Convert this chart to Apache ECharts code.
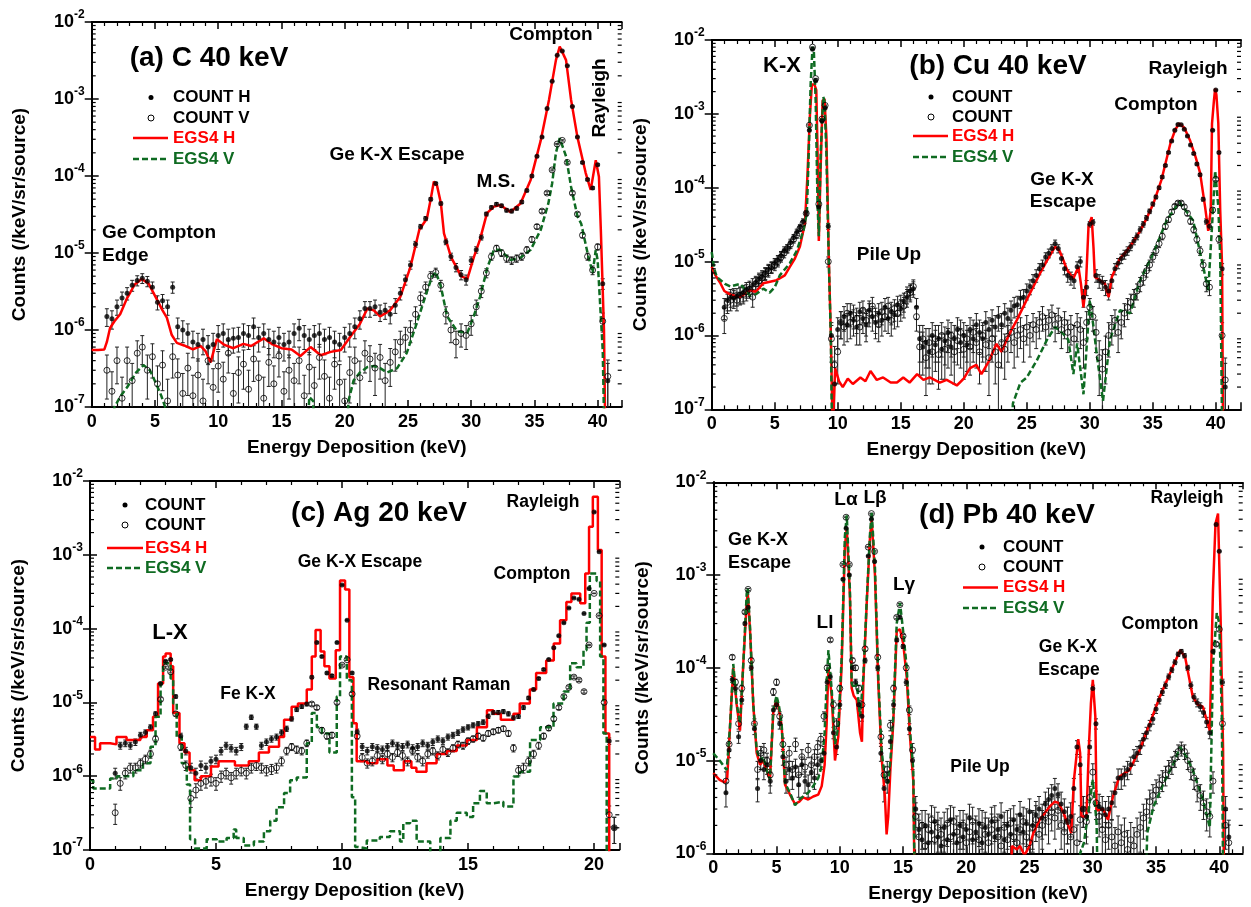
<!DOCTYPE html>
<html>
<head>
<meta charset="utf-8">
<title>Scattered photon spectra, H / V polarization</title>
<script src="https://cdn.jsdelivr.net/npm/echarts@6/dist/echarts.min.js"></script>
<style>
  body { margin: 0; background: #fff; }
  #main { width: 1251px; height: 907px; }
</style>
</head>
<body>
<div id="main"></div>
<script>
// ---------------- data ----------------
// measured points: energy grid = step * (1..n); rows grouped for readability
var stepA = 0.4, stepB = 0.25, stepC = 0.2, stepD = 0.25;

var countHA = [].concat(
  [null, null, 1.5e-6, 1.4e-6, 2e-6], [2.6e-6, 3e-6, 3.8e-6, 4.4e-6, 4.7e-6],
  [4.3e-6, 3.6e-6, 2.3e-6, 2.4e-6, 2e-6], [3.6e-6, 1.1e-6, 1e-6, 9e-7, 7e-7],
  [6.5e-7, 7.5e-7, 6e-7, 6.5e-7, 8.5e-7], [9e-7, 7.5e-7, 7.8e-7, 8e-7, 9e-7],
  [8.5e-7, 1.1e-6, 8e-7, 9e-7, 7.5e-7], [7e-7, 8e-7, 6.5e-7, 7e-7, 9e-7],
  [1.05e-6, 8.5e-7, 7.5e-7, 8.5e-7, 9e-7], [7.5e-7, 8e-7, 7e-7, 6.5e-7, 8e-7],
  [9e-7, 1.1e-6, 1.4e-6, 1.9e-6, 1.9e-6], [2e-6, 1.7e-6, 1.8e-6, 1.6e-6, 2.1e-6],
  [3e-6, 4.5e-6, 7e-6, 1.3e-5, 2.2e-5], [2.8e-5, 5e-5, 8e-5, 4.4e-5, 1.4e-5],
  [9e-6, 6.5e-6, 5.2e-6, 4.5e-6, 8e-6], [1.1e-5, 1.6e-5, 3.2e-5, 3.9e-5, 4.3e-5],
  [4.1e-5, 3.6e-5, 3.5e-5, 3.8e-5, 4.6e-5], [6.5e-5, 1e-4, 1.8e-4, 3.2e-4, 7.5e-4],
  [1.7e-3, 3.7e-3, 4.2e-3, 2.7e-3, 8e-4], [3.2e-4, 1.5e-4, 9e-5, 7e-5, 1.4e-4],
  [4e-6, 2.2e-7]);
var countVA = [].concat(
  [null, null, 3e-7, 1.6e-7, 4e-7], [1.3e-7, 4e-7, 2.2e-7, 5e-7, 6e-7],
  [3e-7, 4.5e-7, 2e-7, 3.5e-7, 1.2e-7], [4.5e-7, 2.6e-7, 1.5e-7, 3.2e-7, 1.4e-7],
  [2.6e-7, 1.2e-7, 4e-7, 1.8e-7, 3.4e-7], [2.3e-7, 5e-7, 1.5e-7, 2.8e-7, 3.6e-7],
  [1.7e-7, 4.2e-7, 2.4e-7, 1.3e-7, 3.8e-7], [2e-7, 4.6e-7, 1.6e-7, 3e-7, 2.2e-7],
  [4e-7, 1.4e-7, 3.3e-7, 1.9e-7, 4.4e-7], [2.5e-7, 1.3e-7, 3.6e-7, 2.1e-7, 1.2e-7],
  [2.8e-7, 4e-7, 2.4e-7, 5e-7, 4.2e-7], [3.2e-7, 4.4e-7, 2.2e-7, 3.8e-7, 5.2e-7],
  [7e-7, 8e-7, 1e-6, 1.6e-6, 2.6e-6], [3.6e-6, 5e-6, 5.6e-6, 3.8e-6, 1.6e-6],
  [1e-6, 7e-7, 9e-7, 8.5e-7, 1.2e-6], [2e-6, 3.2e-6, 5.5e-6, 9e-6, 1.15e-5],
  [1e-5, 8.5e-6, 8e-6, 8.5e-6, 9e-6], [1.1e-5, 1.5e-5, 2.2e-5, 3.5e-5, 6e-5],
  [1.2e-4, 2.6e-4, 2.9e-4, 1.5e-4, 6e-5], [3.2e-5, 1.7e-5, 9e-6, 6e-6, 1.2e-5],
  [1.3e-6, 2.5e-7]);

var countHB = [].concat(
  [null, null, null, 2.4e-6], [3e-6, 3.3e-6, 3.2e-6, 3.4e-6], [3.6e-6, 3.8e-6, 4.2e-6, 4.4e-6],
  [4.8e-6, 5.2e-6, 5.8e-6, 6.3e-6], [7e-6, 7.8e-6, 8.3e-6, 9.5e-6], [1.05e-5, 1.2e-5, 1.4e-5, 1.5e-5],
  [1.8e-5, 2.1e-5, 2.5e-5, 2.9e-5], [3.5e-5, 4.5e-5, 6e-4, 7.5e-3], [2.8e-3, 5.5e-5, 8e-4, 1.2e-3],
  [3e-5, 1e-6, 2.2e-7, 1.2e-6], [1.5e-6, 1.8e-6, 1.4e-6, 2e-6], [1.6e-6, 1.3e-6, 2.1e-6, 1.7e-6],
  [1.4e-6, 2.2e-6, 1.8e-6, 1.5e-6], [2e-6, 1.6e-6, 2.4e-6, 1.7e-6], [2.1e-6, 1.9e-6, 2.6e-6, 2.3e-6],
  [2.9e-6, 3.3e-6, 4e-6, 4.3e-6], [2.4e-6, 9e-7, 7e-7, 8e-7], [6e-7, 1e-6, 7.5e-7, 9e-7],
  [6.5e-7, 8.5e-7, 1.1e-6, 7e-7], [9e-7, 1.2e-6, 8e-7, 1e-6], [7.5e-7, 1.2e-6, 9e-7, 1.4e-6],
  [1.1e-6, 9e-7, 1.5e-6, 1.2e-6], [1.6e-6, 1.3e-6, 1.8e-6, 1.4e-6], [2e-6, 1.7e-6, 2.2e-6, 2.5e-6],
  [2.6e-6, 3.2e-6, 3.3e-6, 4e-6], [4.6e-6, 5.5e-6, 6.5e-6, 8e-6], [9e-6, 1.15e-5, 1.3e-5, 1.5e-5],
  [1.75e-5, 1.5e-5, 1.1e-5, 8e-6], [6.5e-6, 6e-6, 5.5e-6, 8.5e-6], [1e-5, 3.3e-6, 4.5e-6, 3.2e-5],
  [3.4e-5, 6.5e-6, 5.5e-6, 5.2e-6], [4.5e-6, 4e-6, 5.5e-6, 8e-6], [9.5e-6, 1.1e-5, 1.25e-5, 1.4e-5],
  [1.6e-5, 1.9e-5, 2.2e-5, 2.7e-5], [3.2e-5, 3.9e-5, 4.8e-5, 6e-5], [7.5e-5, 1e-4, 1.4e-4, 2e-4],
  [3e-4, 4.3e-4, 6e-4, 7.2e-4], [7.1e-4, 6.2e-4, 5e-4, 3.8e-4], [2.9e-4, 2.1e-4, 1.5e-4, 7e-5],
  [3.5e-5, 3e-5, 6e-4, 2.1e-3], [3e-4, 8e-6, 2e-7]);
var countVB = [].concat(
  [null, null, null, 1.7e-6], [2.8e-6, 3e-6, 3.4e-6, 3e-6], [3.5e-6, 3.6e-6, 3.9e-6, 4.2e-6],
  [3.3e-6, 5e-6, 5.5e-6, 6e-6], [6.8e-6, 7.5e-6, 8.5e-6, 9e-6], [1e-5, 1.15e-5, 1.3e-5, 1.5e-5],
  [1.7e-5, 2e-5, 2.3e-5, 2.8e-5], [3.3e-5, 4.5e-5, 7e-4, 8e-3], [3e-3, 6e-5, 8.5e-4, 1.3e-3],
  [1e-5, 9e-7, 4e-7, 6e-7], [1.5e-6, 1.3e-6, 2e-6, 1.5e-6], [1.9e-6, 1.7e-6, 1.3e-6, 2.2e-6],
  [1.6e-6, 2e-6, 2.5e-6, 1.7e-6], [1.4e-6, 2.1e-6, 1.8e-6, 2.5e-6], [1.6e-6, 2.3e-6, 2e-6, 2.7e-6],
  [2.5e-6, 3.6e-6, 3.8e-6, 4.6e-6], [1.8e-6, 7e-7, 9e-7, 5e-7], [8e-7, 6e-7, 9e-7, 5.5e-7],
  [1e-6, 6.5e-7, 8e-7, 1e-6], [6e-7, 8.5e-7, 1.1e-6, 6.5e-7], [9e-7, 7e-7, 1.1e-6, 8e-7],
  [6e-7, 1e-6, 7.5e-7, 5e-7], [9e-7, 6e-7, 4e-7, 8e-7], [6.5e-7, 9e-7, 1.1e-6, 8e-7],
  [1e-6, 1.2e-6, 9e-7, 1.3e-6], [1e-6, 1.4e-6, 1.2e-6, 1.5e-6], [1.8e-6, 1.3e-6, 1.6e-6, 1.9e-6],
  [1.4e-6, 1.7e-6, 1.2e-6, 1.5e-6], [1.1e-6, 1.3e-6, 9e-7, 1.4e-6], [1.2e-6, 8e-7, 1.5e-6, 2.4e-6],
  [1.8e-6, 1.1e-6, 5e-7, 3.5e-7], [6e-7, 1e-6, 1.3e-6, 1.6e-6], [1.1e-6, 1.5e-6, 2e-6, 2.4e-6],
  [2.8e-6, 3.3e-6, 4e-6, 5e-6], [6e-6, 7.5e-6, 9e-6, 1.15e-5], [1.4e-5, 1.75e-5, 2.2e-5, 3e-5],
  [3.7e-5, 4.7e-5, 5.6e-5, 6.2e-5], [6.2e-5, 5.5e-5, 4.5e-5, 3.5e-5], [2.7e-5, 2e-5, 1.4e-5, 9e-6],
  [5e-6, 4.5e-6, 5e-5, 1.3e-4], [2e-5, 1e-6, 2.5e-7]);

var countHC = [].concat(
  [null, null, null, null, 1.1e-6], [2.6e-6, 2.8e-6, 2.6e-6, 2.9e-6, 3.6e-6],
  [3.9e-6, 4.6e-6, 7e-6, 1.8e-5, 3.6e-5], [3.8e-5, 1.2e-5, 3.5e-6, 2.2e-6, 1.3e-6],
  [1.1e-6, 1.4e-6, 1.3e-6, 1.6e-6, 1.7e-6], [2.2e-6, 2.6e-6, 2.4e-6, 2.2e-6, 2.5e-6],
  [4.7e-6, 6.3e-6, 4.7e-6, 2.6e-6, 2.9e-6], [3.2e-6, 3.4e-6, 3.9e-6, 4.4e-6, 6e-6],
  [8e-6, 8.8e-6, 9.5e-6, 2.2e-5, 6.5e-5], [4.2e-5, 2.5e-5, 2.3e-5, 6.5e-5, 3.9e-4],
  [1.3e-4, 2.5e-5, 4e-6, 2.5e-6, 2.2e-6], [2.5e-6, 2.4e-6, 2.3e-6, 2.5e-6, 2.8e-6],
  [2.6e-6, 2.5e-6, 2.7e-6, 2.4e-6, 2.5e-6], [2.8e-6, 2.6e-6, 2.9e-6, 3.2e-6, 3e-6],
  [3.4e-6, 3.6e-6, 3.9e-6, 4.3e-6, 4.6e-6], [4.9e-6, 5.1e-6, 5.4e-6, 6.5e-6, 7.3e-6],
  [7.3e-6, 7.5e-6, 7e-6, 6.2e-6, 6.5e-6], [8.5e-6, 1.15e-5, 1.5e-5, 2.1e-5, 2.8e-5],
  [3.8e-5, 5.5e-5, 8e-5, 1.2e-4, 1.9e-4], [2.6e-4, 2.5e-4, 1.6e-4, 3.5e-4, 3.8e-3],
  [1.1e-3, 6e-5, 3e-6, 2e-7]);
var countVC = [].concat(
  [null, null, null, null, 3.2e-7], [8e-7, 1.1e-6, 1.3e-6, 1.3e-6, 1.5e-6],
  [1.7e-6, 2e-6, 3.2e-6, 1.1e-5, 3e-5], [2.6e-5, 7e-6, 2.5e-6, 1.4e-6, 5e-7],
  [6.5e-7, 8e-7, 8.5e-7, 9e-7, 8e-7], [1e-6, 1.1e-6, 9.5e-7, 1.1e-6, 1.2e-6],
  [1.1e-6, 1.3e-6, 1.4e-6, 1.3e-6, 1.2e-6], [1.25e-6, 1.3e-6, 1.6e-6, 2.2e-6, 2.5e-6],
  [2.3e-6, 2.2e-6, 2.8e-6, 9.5e-6, 8.5e-6], [4.2e-6, 3.5e-6, 3.6e-6, 1e-5, 3.2e-5],
  [3.8e-5, 1.3e-5, 3.5e-6, 1.8e-6, 1.5e-6], [1.6e-6, 1.9e-6, 1.7e-6, 2e-6, 1.8e-6],
  [2.1e-6, 1.9e-6, 1.6e-6, 2.2e-6, 1.8e-6], [1.6e-6, 2e-6, 2.2e-6, 1.9e-6, 2.3e-6],
  [2.1e-6, 2.4e-6, 2.7e-6, 2.6e-6, 3e-6], [3.2e-6, 3.5e-6, 3.3e-6, 3.8e-6, 4e-6],
  [4.2e-6, 4.4e-6, 3.8e-6, 2.4e-6, 1.2e-6], [1.3e-6, 1.6e-6, 2e-6, 2.6e-6, 3.5e-6],
  [4.5e-6, 6e-6, 8.5e-6, 1.2e-5, 1.6e-5], [2.2e-5, 2e-5, 1.4e-5, 6e-5, 3e-4],
  [1.5e-4, 1e-5, 3e-7, 2e-7]);

var countHD = [].concat(
  [null, null, null, 4.5e-6], [1.3e-5, 7.5e-5, 6e-5, 1.8e-5], [4.5e-5, 3e-4, 4.5e-4, 1e-4],
  [2.2e-5, 5e-6, 1e-5, 8e-6], [9e-6, 6e-6, 3.5e-5, 4e-5], [2.5e-5, 1.1e-5, 6e-6, 8e-6],
  [6.5e-6, 8.5e-6, 5.5e-6, 9e-6], [6e-6, 5.5e-6, 7.5e-6, 6.5e-6], [9e-6, 1e-5, 1.2e-5, 7e-5],
  [8e-5, 2e-5, 1.4e-5, 4e-5], [9e-4, 3.2e-3, 1e-3, 1e-4], [7e-5, 4e-5, 3e-5, 1.2e-4],
  [1.6e-3, 4e-3, 1.4e-3, 1e-4], [1.2e-5, 5e-6, 6e-6, 1.6e-5], [4e-5, 2e-4, 3.5e-4, 1.7e-4],
  [7e-5, 2.2e-5, 1e-5, 3e-6], [1.8e-6, 1.4e-6, 2e-6, 1.3e-6], [1.7e-6, 2.2e-6, 1.5e-6, 1.2e-6],
  [1.9e-6, 1.4e-6, 2.3e-6, 1.6e-6], [1.3e-6, 2e-6, 1.5e-6, 1.8e-6], [2.4e-6, 1.4e-6, 1.7e-6, 2.1e-6],
  [1.3e-6, 1.9e-6, 1.6e-6, 2.2e-6], [1.5e-6, 1.8e-6, 2.5e-6, 1.4e-6], [2e-6, 1.6e-6, 2.3e-6, 1.8e-6],
  [2.6e-6, 1.7e-6, 2.1e-6, 2.8e-6], [2e-6, 2.6e-6, 3e-6, 2.4e-6], [3.4e-6, 3.8e-6, 4.2e-6, 5e-6],
  [4.3e-6, 3.4e-6, 2.8e-6, 2.2e-6], [2.5e-6, 5e-6, 1.4e-5, 9e-6], [3e-6, 2.5e-6, 1.4e-5, 6e-5],
  [2.5e-5, 3.2e-6, 3e-6, 2.6e-6], [3e-6, 3.5e-6, 4.5e-6, 6.5e-6], [6.5e-6, 7e-6, 8e-6, 9e-6],
  [1.1e-5, 1.2e-5, 1.4e-5, 1.7e-5], [2e-5, 2.4e-5, 2.8e-5, 3.6e-5], [4.5e-5, 5.5e-5, 6.5e-5, 8e-5],
  [9.5e-5, 1.15e-4, 1.4e-4, 1.5e-4], [1.35e-4, 1e-4, 6.5e-5, 4.8e-5], [4.2e-5, 3.8e-5, 3.3e-5, 2.6e-5],
  [2e-5, 1.5e-4, 3.5e-3, 1.8e-3], [7e-5, 3e-6, 1.5e-6]);
var countVD = [].concat(
  [null, null, null, 6e-6], [1.5e-5, 1.3e-4, 7e-5, 2.5e-5], [6e-5, 4e-4, 7e-4, 1.2e-4],
  [2.5e-5, 8e-6, 1.2e-5, 1.3e-5], [1e-5, 7e-6, 5.5e-5, 7e-5], [3e-5, 1.5e-5, 9e-6, 1.2e-5],
  [8e-6, 1.5e-5, 7e-6, 1.1e-5], [8.5e-6, 1.3e-5, 9e-6, 1.1e-5], [1.4e-5, 1.7e-5, 3e-5, 1e-4],
  [2e-4, 4e-5, 2.5e-5, 6e-5], [1.3e-3, 4.2e-3, 1.3e-3, 1.2e-4], [1e-4, 6e-5, 4e-5, 1.6e-4],
  [2e-3, 4.6e-3, 1.8e-3, 1.3e-4], [1.8e-5, 7e-6, 8e-6, 2.4e-5], [6e-5, 3.5e-4, 4.8e-4, 2.2e-4],
  [1e-4, 3.5e-5, 1.3e-5, 2.5e-6], [1.5e-6, 2e-6, 1.2e-6, 1.8e-6], [2.3e-6, 1.4e-6, 1.9e-6, 1.6e-6],
  [1.3e-6, 2.1e-6, 1.5e-6, 2.2e-6], [1.7e-6, 1.4e-6, 2e-6, 1.3e-6], [1.7e-6, 2.2e-6, 1.5e-6, 1.4e-6],
  [2e-6, 1.6e-6, 1.3e-6, 1.8e-6], [2.3e-6, 1.5e-6, 1.2e-6, 1.9e-6], [1.4e-6, 2.1e-6, 1.5e-6, 1.3e-6],
  [1.8e-6, 2.2e-6, 1.5e-6, 1.3e-6], [1.9e-6, 2.3e-6, 1.6e-6, 2e-6], [2.6e-6, 2.2e-6, 2.8e-6, 2.4e-6],
  [2.9e-6, 2e-6, 1.7e-6, 2.2e-6], [1.5e-6, 1.8e-6, 1.3e-6, 2.3e-6], [3e-6, 2.2e-6, 4e-6, 7.5e-6],
  [3.5e-6, 2.5e-6, 1.8e-6, 1.4e-6], [2e-6, 1.5e-6, 1.2e-6, 1.7e-6], [1.3e-6, 1.6e-6, 1.1e-6, 1.4e-6],
  [1.2e-6, 1.6e-6, 1.9e-6, 2.4e-6], [2.8e-6, 3.6e-6, 4.2e-6, 4.8e-6], [5.5e-6, 6.2e-6, 7e-6, 8.2e-6],
  [9e-6, 1.05e-5, 1.25e-5, 1.35e-5], [1.25e-5, 1e-5, 8e-6, 6.5e-6], [5e-6, 4.2e-6, 3.5e-6, 2.8e-6],
  [2.5e-6, 6e-6, 1.8e-4, 2.6e-4], [2.5e-5, 2e-6, 1.3e-6]);

// value of one count in each panel (sets the size of the Poisson error bars)
var countUnit = [1e-7, 2.4e-7, 3e-8, 4e-7];

// EGS4 simulation curves: [energy keV, counts]
var egsHA = [[0,5.5e-7],[0.5,5.5e-7],[1.0,5.6e-7],[1.2,7e-7],[1.45,1.06e-6],[1.8,1.3e-6],[2.25,1.6e-6],[2.8,2.6e-6],[3.4,3.9e-6],[3.96,4.6e-6],[4.5,4e-6],[5.15,2.5e-6],[5.6,1.8e-6],[5.94,1.45e-6],[6.33,8.6e-7],[6.73,6.8e-7],[7.3,6.3e-7],[8.0,5.6e-7],[8.6,6.2e-7],[9.0,5.3e-7],[9.4,3.8e-7],[9.9,7.6e-7],[10.5,6.4e-7],[11.2,5.8e-7],[12.0,6.6e-7],[12.6,6.2e-7],[13.6,7.8e-7],[14.3,6.5e-7],[15.0,5.8e-7],[15.8,5.6e-7],[16.5,4.6e-7],[17.3,6e-7],[18.1,4.7e-7],[18.9,5.2e-7],[19.7,5.5e-7],[20.5,8.4e-7],[21.2,1.2e-6],[21.8,1.9e-6],[22.3,1.8e-6],[22.8,1.5e-6],[23.6,1.8e-6],[24.4,2.7e-6],[25.2,6.6e-6],[25.9,2e-5],[26.5,2.8e-5],[26.8,5e-5],[27.05,8.5e-5],[27.3,7.5e-5],[27.6,4.5e-5],[27.85,1.8e-5],[28.4,8.9e-6],[29.2,5e-6],[29.7,4.6e-6],[30.2,8.7e-6],[30.7,1.5e-5],[31.25,3.3e-5],[31.8,4e-5],[32.3,4.2e-5],[33.1,3.4e-5],[33.9,4.4e-5],[34.7,8.9e-5],[35.5,2.9e-4],[36.15,9.7e-4],[36.7,3.2e-3],[37.0,4.8e-3],[37.5,3.2e-3],[37.9,9.7e-4],[38.4,3.2e-4],[39.05,1.1e-4],[39.45,6.6e-5],[39.85,1.6e-4],[40.1,9.8e-5],[40.25,2e-5],[40.5,1e-6],[40.65,1e-8]];
var egsVA = [[1.5,1e-8],[1.8,1e-7],[2.3,1.4e-7],[2.8,1.8e-7],[3.5,2.8e-7],[4.1,3.5e-7],[4.6,3e-7],[5.1,2e-7],[5.5,1.4e-7],[5.9,9e-8],[6.2,1e-8],[16.9,1e-8],[17.2,1.35e-7],[17.5,1.2e-7],[17.8,1e-8],[20.0,1e-8],[20.3,1.2e-7],[20.7,2.2e-7],[21.2,2.8e-7],[21.8,3.3e-7],[22.3,3.4e-7],[22.8,3.2e-7],[23.35,2.8e-7],[24.15,3.2e-7],[24.9,5e-7],[25.6,1.1e-6],[26.3,2.5e-6],[26.9,4.9e-6],[27.2,5.7e-6],[27.6,3.7e-6],[28.1,1.5e-6],[28.9,9.6e-7],[29.7,9.2e-7],[30.2,1.5e-6],[30.7,2.7e-6],[31.3,6.6e-6],[31.8,1.1e-5],[32.3,1.1e-5],[33.1,8.1e-6],[33.9,8.7e-6],[34.7,1.1e-5],[35.5,2e-5],[36.1,4.4e-5],[36.4,8e-5],[36.7,2e-4],[37.0,3.1e-4],[37.5,1.8e-4],[37.9,7.2e-5],[38.4,3e-5],[38.7,2.4e-5],[39.2,1e-5],[39.6,5.5e-6],[39.85,1.1e-5],[40.0,8e-6],[40.25,1.5e-6],[40.4,5.5e-7],[40.6,1e-8]];

var egsHB = [[0,8.5e-6],[0.3,6.5e-6],[0.66,5.2e-6],[1.0,4e-6],[1.45,3.6e-6],[2.25,3.3e-6],[3.0,4.1e-6],[3.5,3.9e-6],[4.1,5.1e-6],[5.15,5.6e-6],[5.8,6.5e-6],[6.2,8.5e-6],[6.6,1.1e-5],[7.0,1.6e-5],[7.4,3.3e-5],[7.6,1.5e-4],[7.8,1e-3],[7.95,2.5e-3],[8.15,2.5e-3],[8.3,2.1e-3],[8.4,3e-4],[8.5,1.9e-5],[8.65,2e-4],[8.8,1.5e-3],[8.95,1.6e-3],[9.1,5e-4],[9.3,9.5e-6],[9.45,1.1e-6],[9.6,5e-8],[9.8,3.6e-7],[10.1,2.4e-7],[10.4,2e-7],[10.8,2.6e-7],[11.2,2.2e-7],[11.8,2.7e-7],[12.2,2.4e-7],[12.6,3.3e-7],[13.1,2.5e-7],[13.6,2.7e-7],[14.2,2.3e-7],[14.7,2.3e-7],[15.2,2.7e-7],[15.7,2.3e-7],[16.3,3e-7],[16.8,2.5e-7],[17.3,2.7e-7],[18.1,2.3e-7],[18.65,2.5e-7],[19.45,2.1e-7],[20.0,2.6e-7],[20.5,3.6e-7],[21.0,4e-7],[21.4,3e-7],[22.0,4.5e-7],[22.6,7.7e-7],[23.0,6e-7],[23.4,8.7e-7],[23.8,1.2e-6],[24.2,1.6e-6],[25.1,3.3e-6],[26.05,6.9e-6],[26.7,1.1e-5],[27.25,1.6e-5],[27.6,1.4e-5],[27.9,1.05e-5],[28.2,7.7e-6],[28.7,5.9e-6],[29.1,8.5e-6],[29.3,5e-6],[29.5,2.4e-6],[29.7,5e-6],[29.9,3e-5],[30.15,4e-5],[30.3,1.5e-5],[30.4,6.2e-6],[30.8,5.6e-6],[31.2,5e-6],[31.5,3.3e-6],[31.75,6.2e-6],[32.4,1.1e-5],[32.8,1.3e-5],[33.4,1.8e-5],[34.0,2.6e-5],[34.5,3.8e-5],[35.05,6.1e-5],[35.7,1.3e-4],[36.4,4e-4],[36.8,6.2e-4],[37.1,7.4e-4],[37.5,6.5e-4],[37.95,4.4e-4],[38.4,2.6e-4],[38.75,1.6e-4],[39.15,5.5e-5],[39.4,2.6e-5],[39.6,5e-5],[39.7,7.4e-4],[39.85,1.5e-3],[39.95,2.2e-3],[40.05,1.8e-3],[40.2,7.4e-4],[40.35,5e-5],[40.5,8.5e-6],[40.6,1e-8]];
var egsVB = [[0,1.35e-5],[0.2,8e-6],[0.4,6.2e-6],[1.05,5e-6],[1.5,4.6e-6],[2.25,5e-6],[2.6,4.3e-6],[3.0,3.5e-6],[3.5,3.6e-6],[4.1,4.3e-6],[4.6,3.8e-6],[5.0,4.5e-6],[5.4,6.5e-6],[6.2,9.5e-6],[6.75,1.4e-5],[7.3,2.7e-5],[7.55,4.6e-5],[7.7,3e-4],[7.85,2.5e-3],[8.0,8e-3],[8.1,7.5e-3],[8.25,1.5e-3],[8.4,6e-5],[8.5,2.2e-5],[8.65,3e-4],[8.85,1.7e-3],[8.95,1.5e-3],[9.1,3e-4],[9.3,9e-6],[9.45,1e-6],[9.6,1e-8],[23.6,1e-8],[23.9,1.2e-7],[24.5,2.3e-7],[25.0,2.7e-7],[25.8,4.6e-7],[26.6,8.7e-7],[27.25,1.3e-6],[27.9,1.05e-6],[28.3,8.7e-7],[28.7,3e-7],[29.0,7.8e-7],[29.5,1.6e-7],[30.0,3e-6],[30.3,1.3e-6],[30.55,5.6e-7],[31.05,1.3e-7],[31.6,8.7e-7],[32.4,2.2e-6],[33.2,2e-6],[34.0,5.6e-6],[35.05,1.3e-5],[36.1,3.6e-5],[37.1,6.4e-5],[38.2,3.6e-5],[39.0,8.5e-6],[39.4,4.1e-6],[39.7,3e-5],[39.95,1.7e-4],[40.2,5.5e-5],[40.35,1.15e-5],[40.55,1e-8]];

// panel (c) is a histogram: [left bin edge, counts]
var egsHC = [[0,3.4e-6],[0.2,2.3e-6],[0.4,2.8e-6],[0.8,2.7e-6],[1.05,3.4e-6],[1.45,3.1e-6],[2.0,3.4e-6],[2.25,4.2e-6],[2.5,6.4e-6],[2.7,1.8e-5],[2.9,4.2e-5],[3.0,4.6e-5],[3.2,3.1e-5],[3.3,7.2e-6],[3.55,2.8e-6],[3.75,2.1e-6],[3.95,1.2e-6],[4.15,8.8e-7],[4.4,1e-6],[4.8,1.35e-6],[5.1,1.6e-6],[5.75,1.4e-6],[6.3,1.6e-6],[6.7,2.1e-6],[7.1,2.5e-6],[7.5,3.4e-6],[7.7,5.8e-6],[8.0,8.7e-6],[8.25,9.7e-6],[8.6,1.5e-5],[8.8,4.2e-5],[8.95,9.6e-5],[9.15,4.9e-5],[9.3,3.1e-5],[9.5,2.1e-5],[9.75,5.1e-5],[9.92,4.5e-4],[10.12,3.4e-4],[10.29,2.2e-5],[10.45,5.2e-6],[10.58,1.6e-6],[11.0,1.5e-6],[11.4,1.7e-6],[11.8,1.4e-6],[12.05,1.2e-6],[12.45,1.6e-6],[12.75,1.3e-6],[12.95,1.15e-6],[13.35,1.5e-6],[13.75,2e-6],[14.15,2.2e-6],[14.55,2.6e-6],[14.95,3.1e-6],[15.35,4.6e-6],[15.75,7.8e-6],[16.0,7e-6],[16.3,5.8e-6],[16.8,7e-6],[17.05,9.7e-6],[17.45,1.5e-5],[17.7,2.5e-5],[18.1,3.7e-5],[18.4,6.3e-5],[18.65,1.3e-4],[18.9,2.3e-4],[19.1,3e-4],[19.45,2.2e-4],[19.65,5.6e-4],[19.8,2.4e-3],[19.95,6.1e-3],[20.15,1.16e-3],[20.3,4.2e-5],[20.45,3.8e-6],[20.6,1e-8],[21,1e-8]];
var egsVC = [[0,8.8e-7],[0.13,6.8e-7],[0.8,9.3e-7],[1.06,1e-6],[1.72,1.2e-6],[2.1,1.5e-6],[2.4,2.5e-6],[2.6,6.4e-6],[2.8,1.8e-5],[2.9,3.4e-5],[3.2,2.1e-5],[3.3,9.7e-6],[3.44,3.4e-6],[3.64,1.5e-6],[3.84,7.7e-7],[3.97,1.4e-7],[4.17,1.05e-7],[4.63,1.4e-7],[5.03,1.3e-7],[5.42,1.45e-7],[5.7,1.9e-7],[5.8,1.45e-7],[6.1,1.15e-7],[6.5,1.3e-7],[6.9,1.8e-7],[7.15,2.5e-7],[7.4,3.8e-7],[7.7,5.9e-7],[7.94,8.8e-7],[8.2,9.6e-7],[8.6,2.8e-6],[8.8,7.2e-6],[9.0,4.6e-6],[9.2,3.8e-6],[9.5,2.1e-6],[9.79,1.2e-5],[9.92,4.2e-5],[10.19,2e-5],[10.39,5.2e-7],[10.52,1.1e-7],[10.65,1.05e-7],[10.98,1.35e-7],[11.5,1.5e-7],[11.9,1.8e-7],[12.3,1.3e-7],[12.43,2.3e-7],[12.7,2.5e-7],[12.96,1.3e-7],[13.5,9e-8],[13.9,1.45e-7],[14.3,2.5e-7],[14.55,3.2e-7],[14.95,2.8e-7],[15.2,4.3e-7],[15.47,6.3e-7],[15.74,4.3e-7],[16.0,4.5e-7],[16.4,3.9e-7],[16.8,9.9e-7],[17.06,1.15e-6],[17.46,3.1e-6],[17.86,4.6e-6],[18.39,9.7e-6],[18.79,1.4e-5],[19.05,3.4e-5],[19.3,3e-5],[19.58,5.1e-5],[19.7,1.2e-4],[19.83,5.6e-4],[20.1,4.4e-4],[20.24,4.2e-5],[20.37,3.8e-6],[20.5,1e-8],[21,1e-8]];

var egsHD = [[0,7.3e-6],[0.5,6.2e-6],[0.9,5.8e-6],[1.1,6.5e-6],[1.32,2.3e-5],[1.58,1e-4],[1.85,4e-5],[2.11,2.1e-5],[2.37,1.1e-4],[2.64,5e-4],[2.72,6.5e-4],[2.9,2.6e-4],[3.16,4e-5],[3.43,1.2e-5],[3.7,9e-6],[3.95,1e-5],[4.2,8e-6],[4.48,6.2e-6],[4.74,3.3e-5],[5.0,4.7e-5],[5.2,3.5e-5],[5.4,2.4e-5],[5.67,5.5e-6],[6.06,4.3e-6],[6.46,3.4e-6],[6.8,3.6e-6],[7.1,4e-6],[7.5,3.8e-6],[7.9,4.1e-6],[8.3,4.3e-6],[8.57,5.3e-6],[8.8,9e-6],[8.96,2.5e-5],[9.1,1e-4],[9.36,5e-5],[9.62,1e-5],[9.88,1.8e-5],[10.15,1.1e-4],[10.4,2e-3],[10.55,3.2e-3],[10.8,6e-4],[10.94,6e-5],[11.1,5e-5],[11.34,4.5e-5],[11.6,2e-5],[11.75,1.6e-5],[11.86,7e-5],[12.13,5e-4],[12.39,2.6e-3],[12.52,3.9e-3],[12.78,1e-3],[13.04,7e-5],[13.3,1.1e-5],[13.57,4e-6],[13.7,1.6e-6],[13.83,2.5e-6],[14.0,8e-6],[14.23,2.6e-5],[14.5,2.5e-4],[14.76,2.6e-4],[15.02,1.8e-4],[15.29,8e-5],[15.55,1.8e-5],[15.81,6e-6],[16.07,1e-8],[23.4,1e-8],[23.6,1.2e-6],[24.0,1.1e-6],[24.25,1.2e-6],[24.6,9.5e-7],[25.0,1.2e-6],[25.3,1.65e-6],[25.8,2.3e-6],[26.6,3.2e-6],[27.0,3.6e-6],[27.3,3.5e-6],[27.7,2.7e-6],[28.0,2.1e-6],[28.3,1.65e-6],[28.5,6e-6],[28.85,1.7e-5],[29.0,1.2e-5],[29.1,2.5e-6],[29.5,2.5e-6],[29.7,1.5e-5],[29.85,4.1e-5],[30.0,7.4e-5],[30.2,3e-5],[30.3,2.9e-6],[30.8,3e-6],[31.2,2.3e-6],[31.6,4.1e-6],[32.1,6.7e-6],[32.9,7.9e-6],[33.7,1.3e-5],[34.5,2.5e-5],[35.3,4.9e-5],[36.1,8.7e-5],[36.9,1.55e-4],[37.3,1.3e-4],[37.9,4.9e-5],[38.3,4e-5],[38.7,3.8e-5],[39.25,2.1e-5],[39.5,6.9e-4],[39.7,3.6e-3],[39.9,4.6e-3],[40.1,3.6e-4],[40.3,1.3e-5],[40.45,1e-8]];
var egsVD = [[0,1.2e-5],[0.53,9.9e-6],[1.06,7.9e-6],[1.32,2.3e-5],[1.58,1.1e-4],[1.85,4.1e-5],[2.11,2.5e-5],[2.37,1.1e-4],[2.64,6.3e-4],[2.72,7.2e-4],[2.9,2.8e-4],[3.16,4.1e-5],[3.43,1.3e-5],[3.7,1e-5],[3.95,1.1e-5],[4.2,8e-6],[4.48,6.2e-6],[4.74,3.5e-5],[5.0,5e-5],[5.2,3.8e-5],[5.4,2.5e-5],[5.67,5.7e-6],[6.06,4.5e-6],[6.46,3.3e-6],[6.8,3.8e-6],[7.1,4.1e-6],[7.5,4.5e-6],[7.9,5.3e-6],[8.3,6.5e-6],[8.57,8.7e-6],[8.8,2e-5],[8.96,6.8e-5],[9.1,1.55e-4],[9.36,5.8e-5],[9.62,1.5e-5],[9.88,2.3e-5],[10.15,1.3e-4],[10.4,2.6e-3],[10.55,4.4e-3],[10.8,6.9e-4],[10.94,6.8e-5],[11.1,6e-5],[11.34,6.8e-5],[11.6,3e-5],[11.86,8e-5],[12.13,5.4e-4],[12.39,2.8e-3],[12.52,4.8e-3],[12.78,1.2e-3],[13.04,8e-5],[13.3,1.3e-5],[13.57,6.2e-6],[13.83,5.7e-6],[14.0,1e-5],[14.23,3e-5],[14.5,3e-4],[14.76,5e-4],[15.02,2.4e-4],[15.29,1e-4],[15.55,2.1e-5],[15.81,7.9e-6],[16.07,1e-8],[28.8,1e-8],[29.0,1e-6],[29.3,1.3e-6],[29.6,2.5e-6],[30.0,6.2e-6],[30.3,2.1e-6],[30.6,1e-8],[33.9,1e-8],[34.3,1.65e-6],[34.8,3.2e-6],[35.6,5.7e-6],[36.4,9.4e-6],[36.9,1.4e-5],[37.4,1.1e-5],[37.9,7.9e-6],[38.7,3.8e-6],[39.25,1.9e-6],[39.5,1.05e-4],[39.8,3.9e-4],[40.0,3e-4],[40.2,3e-5],[40.4,1e-8]];

// ---------------- layout ----------------
var FONT = '"Liberation Sans", Arial, sans-serif';
var RED = '#ff0000', GREEN = '#0f6b22';

var panels = [
  { grid: { left: 91.7, top: 22, width: 530, height: 385 }, xmax: 41.9, ymin: 1e-7, ymax: 1e-2, lo: -7, hi: -2,
    step: stepA, h: countHA, v: countVA, egsH: egsHA, egsV: egsVA, histo: false, yGap: 62 },
  { grid: { left: 711.7, top: 40, width: 529.3, height: 369.3 }, xmax: 42, ymin: 1e-7, ymax: 1e-2, lo: -7, hi: -2,
    step: stepB, h: countHB, v: countVB, egsH: egsHB, egsV: egsVB, histo: false, yGap: 61 },
  { grid: { left: 90, top: 481, width: 529.3, height: 369 }, xmax: 21, ymin: 1e-7, ymax: 1e-2, lo: -7, hi: -2,
    step: stepC, h: countHC, v: countVC, egsH: egsHC, egsV: egsVC, histo: true, yGap: 62 },
  { grid: { left: 713.3, top: 482.3, width: 529.4, height: 371 }, xmax: 41.85, ymin: 1e-6, ymax: 1e-2, lo: -6, hi: -2,
    step: stepD, h: countHD, v: countVD, egsH: egsHD, egsV: egsVD, histo: false, yGap: 61 }
];

function points(step, vals) {
  var out = [];
  vals.forEach(function (y, i) { if (y != null) out.push([+((i + 1) * step).toFixed(3), y]); });
  return out;
}

function line(x1, y1, x2, y2, color, w) {
  return { type: 'line', shape: { x1: x1, y1: y1, x2: x2, y2: y2 }, style: { stroke: color, lineWidth: w || 1 } };
}

function errorBars(pi, pts, unit) {
  return {
    type: 'custom', xAxisIndex: pi * 2, yAxisIndex: pi * 2, clip: true, silent: true, z: 2,
    data: pts.map(function (p) { return [p[0], p[1], Math.sqrt(p[1] * unit)]; }),
    renderItem: function (params, api) {
      var x = api.value(0), y = api.value(1), e = api.value(2);
      var lo = Math.max(y - e, y * 0.02);
      var a = api.coord([x, y + e]), b = api.coord([x, lo]);
      return { type: 'group', children: [
        line(a[0], a[1], b[0], b[1], '#222'),
        line(a[0] - 2, a[1], a[0] + 2, a[1], '#222'),
        line(b[0] - 2, b[1], b[0] + 2, b[1], '#222')
      ] };
    }
  };
}

function minorLogTicks(pi, lo, hi) {
  var vals = [];
  for (var d = lo; d < hi; d++) for (var m = 2; m <= 9; m++) vals.push([0, m * Math.pow(10, d)]);
  return {
    type: 'custom', xAxisIndex: pi * 2, yAxisIndex: pi * 2, clip: false, silent: true, z: 6, data: vals,
    renderItem: function (params, api) {
      var cs = params.coordSys;
      var y = api.coord([0, api.value(1)])[1];
      return { type: 'group', children: [
        line(cs.x, y, cs.x + 4, y, '#000', 1.2),
        line(cs.x + cs.width - 4, y, cs.x + cs.width, y, '#000', 1.2)
      ] };
    }
  };
}

var grids = [], xAxes = [], yAxes = [], series = [];

panels.forEach(function (p, i) {
  grids.push(p.grid);
  var tickStyle = { inside: true, length: 7, lineStyle: { color: '#000', width: 1.5 } };
  var axisLine = { show: true, lineStyle: { color: '#000', width: 2 } };
  var labelFont = { color: '#000', fontSize: 18, fontWeight: 'bold', fontFamily: FONT };
  xAxes.push({
    type: 'value', gridIndex: i, min: 0, max: p.xmax, interval: 5, position: 'bottom',
    axisLine: axisLine, axisTick: tickStyle,
    minorTick: { show: true, splitNumber: 5, length: 4, lineStyle: { color: '#000', width: 1.2 } },
    splitLine: { show: false }, minorSplitLine: { show: false },
    axisLabel: Object.assign({ margin: 6, showMaxLabel: false }, labelFont),
    name: 'Energy Deposition (keV)', nameLocation: 'middle', nameGap: 31,
    nameTextStyle: { color: '#000', fontSize: 19, fontWeight: 'bold', fontFamily: FONT }
  });
  xAxes.push({
    type: 'value', gridIndex: i, min: 0, max: p.xmax, interval: 5, position: 'top',
    axisLine: axisLine, axisTick: tickStyle,
    minorTick: { show: true, splitNumber: 5, length: 4, lineStyle: { color: '#000', width: 1.2 } },
    splitLine: { show: false }, axisLabel: { show: false }
  });
  yAxes.push({
    type: 'log', logBase: 10, gridIndex: i, min: p.ymin, max: p.ymax, position: 'left',
    axisLine: axisLine, axisTick: tickStyle, splitLine: { show: false },
    axisLabel: {
      margin: 7, color: '#000', fontFamily: FONT, fontWeight: 'bold',
      formatter: function (v) { return '{b|10}{s|' + Math.round(Math.log10(v)) + '}'; },
      rich: {
        b: { fontSize: 18, fontWeight: 'bold', fontFamily: FONT, color: '#000', lineHeight: 26 },
        s: { fontSize: 12, fontWeight: 'bold', fontFamily: FONT, color: '#000', lineHeight: 12, verticalAlign: 'top' }
      }
    },
    name: 'Counts (/keV/sr/source)', nameLocation: 'middle', nameRotate: 90, nameGap: p.yGap,
    nameTextStyle: { color: '#000', fontSize: 19, fontWeight: 'bold', fontFamily: FONT }
  });
  yAxes.push({
    type: 'log', logBase: 10, gridIndex: i, min: p.ymin, max: p.ymax, position: 'right',
    axisLine: axisLine, axisTick: tickStyle, splitLine: { show: false }, axisLabel: { show: false }
  });

  var hPts = points(p.step, p.h), vPts = points(p.step, p.v);
  series.push(errorBars(i, hPts, countUnit[i]));
  series.push(errorBars(i, vPts, countUnit[i]));
  series.push({
    type: 'line', name: 'EGS4 H', xAxisIndex: i * 2, yAxisIndex: i * 2, data: p.egsH,
    symbol: 'none', step: p.histo ? 'end' : false, z: 3, silent: true,
    lineStyle: { color: RED, width: 2.5 }
  });
  series.push({
    type: 'line', name: 'EGS4 V', xAxisIndex: i * 2, yAxisIndex: i * 2, data: p.egsV,
    symbol: 'none', step: p.histo ? 'end' : false, z: 3, silent: true,
    lineStyle: { color: GREEN, width: 2.5, type: [6, 3] }
  });
  series.push({
    type: 'scatter', name: 'COUNT V', xAxisIndex: i * 2, yAxisIndex: i * 2, data: vPts,
    symbol: 'circle', symbolSize: 6, z: 4, silent: true,
    itemStyle: { color: 'rgba(255,255,255,0)', borderColor: '#000', borderWidth: 1 }
  });
  series.push({
    type: 'scatter', name: 'COUNT H', xAxisIndex: i * 2, yAxisIndex: i * 2, data: hPts,
    symbol: 'circle', symbolSize: 5, z: 5, silent: true,
    itemStyle: { color: '#000' }
  });
  series.push(minorLogTicks(i, p.lo, p.hi));
});

// ---------------- annotations and legends ----------------
function txt(x, y, s, size, opt) {
  opt = opt || {};
  return {
    type: 'text', x: x, y: y, rotation: opt.rot || 0, z: 100, silent: true,
    style: {
      text: s, fill: opt.color || '#000', font: 'bold ' + size + 'px ' + FONT,
      align: opt.align || 'center', verticalAlign: 'middle'
    }
  };
}

function legend(dotX, textX, x1, x2, rows, labels) {
  return [
    { type: 'circle', shape: { cx: dotX, cy: rows[0], r: 2.5 }, style: { fill: '#000' }, z: 100 },
    { type: 'circle', shape: { cx: dotX, cy: rows[1], r: 3 }, style: { fill: 'none', stroke: '#000', lineWidth: 1 }, z: 100 },
    { type: 'line', shape: { x1: x1, y1: rows[2], x2: x2, y2: rows[2] }, style: { stroke: RED, lineWidth: 2.5 }, z: 100 },
    { type: 'line', shape: { x1: x1, y1: rows[3], x2: x2, y2: rows[3] }, style: { stroke: GREEN, lineWidth: 2.5, lineDash: [6, 3] }, z: 100 },
    txt(textX, rows[0], labels[0], 17, { align: 'left' }),
    txt(textX, rows[1], labels[1], 17, { align: 'left' }),
    txt(textX, rows[2], 'EGS4 H', 17, { align: 'left', color: RED }),
    txt(textX, rows[3], 'EGS4 V', 17, { align: 'left', color: GREEN })
  ];
}

var graphics = [].concat(
  // (a)
  [txt(209, 58, '(a) C 40 keV', 28), txt(551, 35, 'Compton', 19),
   txt(600, 98, 'Rayleigh', 19, { rot: Math.PI / 2 }), txt(397, 155, 'Ge K-X Escape', 19),
   txt(496, 182, 'M.S.', 19), txt(102, 233, 'Ge Compton', 19, { align: 'left' }),
   txt(102, 256, 'Edge', 19, { align: 'left' })],
  legend(151, 173, 133, 168, [97.5, 118, 138, 159], ['COUNT H', 'COUNT V']),
  // (b)
  [txt(998, 66, '(b) Cu 40 keV', 28), txt(782, 66, 'K-X', 22), txt(1188, 69, 'Rayleigh', 19),
   txt(1156, 105, 'Compton', 19), txt(1062, 180, 'Ge K-X', 19), txt(1063, 202, 'Escape', 19),
   txt(889, 255, 'Pile Up', 19)],
  legend(931, 952, 913, 948, [97, 117, 136, 157], ['COUNT', 'COUNT']),
  // (c)
  [txt(379, 513, '(c) Ag 20 keV', 28), txt(170, 633, 'L-X', 22), txt(248, 694, 'Fe K-X', 17.5),
   txt(360, 562, 'Ge K-X Escape', 17.5), txt(439, 685, 'Resonant Raman', 17.5),
   txt(532, 574, 'Compton', 17.5), txt(543, 502, 'Rayleigh', 17.5)],
  legend(125, 145, 107, 143, [505, 525, 548, 568], ['COUNT', 'COUNT']),
  // (d)
  [txt(1007, 515, '(d) Pb 40 keV', 28), txt(728, 540, 'Ge K-X', 18, { align: 'left' }),
   txt(728, 563, 'Escape', 18, { align: 'left' }), txt(846, 500, 'L\u03b1', 19), txt(875, 498, 'L\u03b2', 19),
   txt(825, 623, 'Ll', 19), txt(904, 585, 'L\u03b3', 19), txt(1160, 624, 'Compton', 17.5),
   txt(1068, 647, 'Ge K-X', 17.5), txt(1069, 670, 'Escape', 17.5), txt(980, 767, 'Pile Up', 17.5),
   txt(1187, 498, 'Rayleigh', 17.5)],
  legend(982, 1003, 963, 998, [547, 567, 587.5, 608], ['COUNT', 'COUNT'])
);

var chart = echarts.init(document.getElementById('main'));
chart.setOption({
  animation: false,
  backgroundColor: '#fff',
  grid: grids,
  xAxis: xAxes,
  yAxis: yAxes,
  series: series,
  graphic: graphics
});
</script>
</body>
</html>
